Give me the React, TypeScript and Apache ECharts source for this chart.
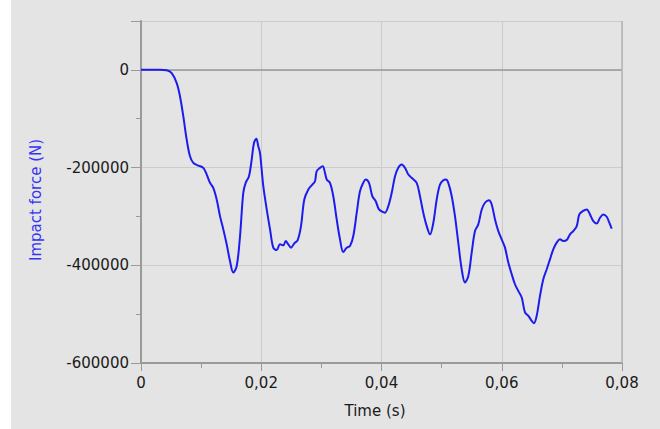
import React, { useEffect, useRef } from "react";
import * as echarts from "echarts";

const timeS: number[] = [
  0, 0.0015, 0.00316, 0.00427, 0.00511, 0.00594, 0.00649, 0.00704, 0.0076, 0.00815,
  0.0087, 0.00953, 0.01036, 0.01093, 0.01148, 0.01202, 0.01259, 0.01314, 0.01369, 0.01425,
  0.0148, 0.01535, 0.01592, 0.01647, 0.01701, 0.01741, 0.01796, 0.01841, 0.01879, 0.01918,
  0.01951, 0.01979, 0.02007, 0.02034, 0.02091, 0.02146, 0.022, 0.02257, 0.02312, 0.02367,
  0.02407, 0.0245, 0.02495, 0.0255, 0.02606, 0.02661, 0.02716, 0.02783, 0.02849, 0.02894,
  0.02922, 0.02977, 0.03022, 0.0306, 0.03089, 0.03143, 0.03198, 0.03255, 0.0331, 0.03365,
  0.03421, 0.03476, 0.03531, 0.03588, 0.03642, 0.03697, 0.03737, 0.03792, 0.03847, 0.03904,
  0.03958, 0.0403, 0.04058, 0.04113, 0.0417, 0.04225, 0.04279, 0.04336, 0.04391, 0.04446,
  0.04502, 0.04585, 0.0464, 0.04695, 0.04752, 0.04807, 0.04862, 0.04918, 0.04973, 0.05028,
  0.05073, 0.05111, 0.05168, 0.05222, 0.05277, 0.05334, 0.05389, 0.05444, 0.055, 0.05555,
  0.0561, 0.05667, 0.05721, 0.05788, 0.05833, 0.05888, 0.05943, 0.05999, 0.06054, 0.06109,
  0.06166, 0.0622, 0.06275, 0.06332, 0.06387, 0.06442, 0.06498, 0.06536, 0.06581, 0.06636,
  0.06691, 0.06748, 0.06802, 0.06857, 0.06914, 0.06969, 0.07024, 0.0708, 0.07135, 0.0719,
  0.07247, 0.0729, 0.07346, 0.07413, 0.07468, 0.07523, 0.07579, 0.07634, 0.07689, 0.07746,
  0.07789, 0.07829,
];

const forceN: number[] = [
  0, 0, 0, -1000, -6700, -27100, -54500, -95300, -142900, -176900,
  -190400, -195900, -200600, -214300, -231200, -241400, -265300, -299400, -326500, -357100,
  -391200, -414900, -401400, -340200, -251600, -231200, -217700, -183700, -149600, -140800,
  -156500, -170000, -204100, -238200, -285700, -326500, -363900, -368800, -357100, -359200,
  -350400, -357100, -363900, -355100, -348400, -319800, -265300, -244900, -234700, -228000,
  -207500, -200600, -197300, -210800, -224500, -231200, -258600, -306100, -346900, -372900,
  -363900, -360600, -340200, -292400, -248400, -231200, -224500, -231200, -258600, -268800,
  -285700, -291200, -292400, -279000, -251600, -217700, -200600, -193900, -200600, -214300,
  -221000, -231200, -258600, -292400, -319800, -336700, -312900, -265300, -234700, -225900,
  -224500, -231200, -258600, -299400, -353700, -408200, -435300, -421800, -374100, -330000,
  -316300, -285700, -272000, -266700, -275500, -306100, -330000, -346900, -363900, -394500,
  -418400, -438800, -452400, -465900, -496500, -503500, -513700, -518400, -503500, -462600,
  -428600, -408200, -387800, -367300, -353700, -346900, -350400, -348400, -336700, -330000,
  -319800, -295900, -289200, -285700, -295900, -309600, -314300, -302700, -295900, -300600,
  -312900, -325100,
];

const xTickLabels: number[] = [0, 0.02, 0.04, 0.06, 0.08];
const yTickLabels: number[] = [0, -200000, -400000, -600000];

const xTitle = "Time (s)";
const yTitle = "Impact force (N)";

const FONT = "DejaVu Sans";

function fmtX(v: number): string {
  const hit = xTickLabels.find((t) => Math.abs(t - v) < 1e-9);
  if (hit === undefined) return "";
  return hit === 0 ? "0" : hit.toFixed(2).replace(".", ",");
}

function fmtY(v: number): string {
  const hit = yTickLabels.find((t) => Math.abs(t - v) < 1e-3);
  if (hit === undefined) return "";
  return String(hit);
}

export default function App() {
  const ref = useRef<HTMLDivElement>(null);

  useEffect(() => {
    if (!ref.current) return;
    const chart = echarts.init(ref.current, undefined, { renderer: "svg" });
    const data = timeS.map((t, i) => [t, forceN[i]]);
    const axisGray = "#9a9a9a";
    const gridGray = "#cbcbcb";

    chart.setOption({
      animation: false,
      backgroundColor: "transparent",
      grid: { left: 141, top: 21, width: 481, height: 342, containLabel: false },
      xAxis: [
        {
          type: "value",
          min: 0,
          max: 0.08,
          interval: 0.02,
          position: "bottom",
          axisLine: { show: true, onZero: false, lineStyle: { color: axisGray, width: 2 } },
          axisTick: { show: true, length: 8, lineStyle: { color: axisGray, width: 1 } },
          axisLabel: {
            show: true,
            formatter: fmtX,
            margin: 12,
            fontFamily: FONT,
            fontSize: 15,
            color: "#1a1a1a",
            showMinLabel: true,
            showMaxLabel: true,
          },
          splitLine: { show: true, lineStyle: { color: gridGray, width: 1 } },
        },
        {
          type: "value",
          min: 0,
          max: 0.08,
          interval: 0.01,
          position: "bottom",
          axisLine: { show: false, onZero: false },
          axisTick: { show: true, length: 5, lineStyle: { color: axisGray, width: 1 } },
          axisLabel: { show: false },
          splitLine: { show: false },
        },
      ],
      yAxis: [
        {
          type: "value",
          min: -600000,
          max: 100000,
          interval: 200000,
          position: "left",
          axisLine: { show: true, onZero: false, lineStyle: { color: axisGray, width: 2 } },
          axisTick: { show: true, length: 10, lineStyle: { color: axisGray, width: 1 } },
          axisLabel: {
            show: true,
            formatter: fmtY,
            margin: 12,
            fontFamily: FONT,
            fontSize: 15,
            color: "#1a1a1a",
          },
          splitLine: { show: true, lineStyle: { color: gridGray, width: 1 } },
        },
        {
          type: "value",
          min: -600000,
          max: 100000,
          interval: 100000,
          position: "left",
          axisLine: { show: false, onZero: false },
          axisTick: { show: true, length: 5, lineStyle: { color: axisGray, width: 1 } },
          axisLabel: { show: false },
          splitLine: { show: false },
        },
      ],
      graphic: [
        {
          type: "text",
          x: 36,
          y: 200,
          rotation: Math.PI / 2,
          style: {
            text: yTitle,
            fill: "#3535f5",
            font: `15px "${FONT}"`,
            textAlign: "center",
            textVerticalAlign: "middle",
          },
        },
        {
          type: "text",
          x: 375,
          y: 411,
          style: {
            text: xTitle,
            fill: "#1a1a1a",
            font: `15px "${FONT}"`,
            textAlign: "center",
            textVerticalAlign: "middle",
          },
        },
      ],
      series: [
        {
          type: "line",
          xAxisIndex: 0,
          yAxisIndex: 0,
          data: [],
          z: 1,
          silent: true,
          markLine: {
            silent: true,
            symbol: ["none", "none"],
            label: { show: false },
            data: [
              { yAxis: 0, lineStyle: { color: "#999999", type: "solid", width: 1.5 } },
              { xAxis: 0.08, lineStyle: { color: "#b4b4b4", type: "solid", width: 1.5 } },
            ],
          },
        },
        {
          type: "line",
          xAxisIndex: 0,
          yAxisIndex: 0,
          data,
          z: 5,
          showSymbol: false,
          smooth: 0.35,
          lineStyle: { color: "#1c1cee", width: 2 },
        },
      ],
    });

    return () => chart.dispose();
  }, []);

  return (
    <div
      style={{
        position: "fixed",
        left: 0,
        top: 0,
        width: 660,
        height: 429,
        background: "linear-gradient(to right, #ffffff 0px, #ffffff 11px, #e4e4e4 11px, #e4e4e4 100%)",
      }}
    >
      <div ref={ref} style={{ width: 660, height: 429 }} />
    </div>
  );
}
